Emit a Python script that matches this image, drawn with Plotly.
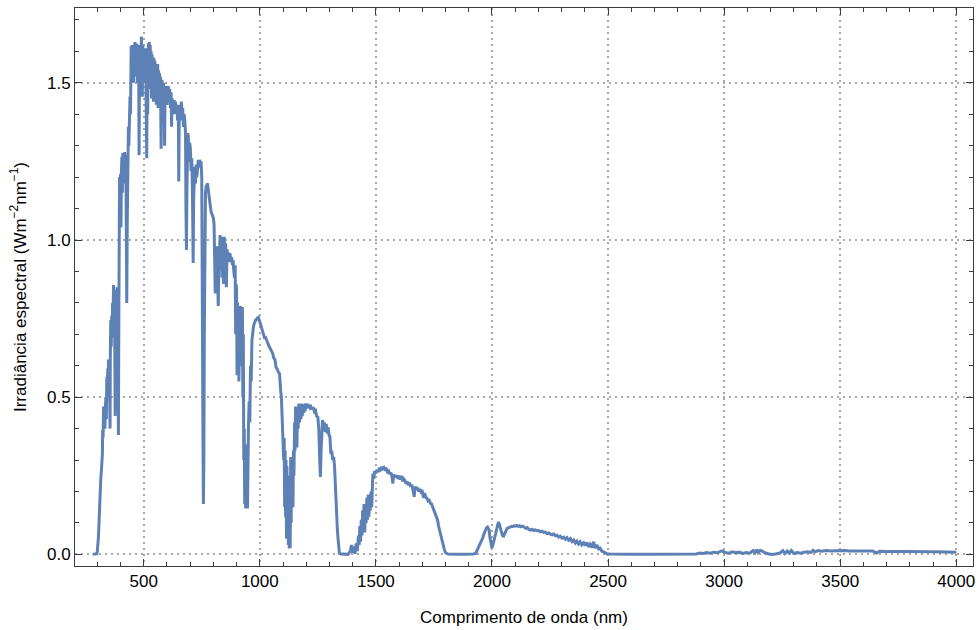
import plotly.graph_objects as go

# Spectral irradiance (W m^-2 nm^-1) against wavelength (nm)
wavelength_nm = [
    280, 285, 290, 295, 298, 300, 303, 305, 308, 310, 312, 315, 318, 320, 322, 323, 325, 327, 329, 331,
    333, 335, 337, 339, 341, 343, 345, 347, 348, 350, 352, 355, 356, 358, 360, 362, 364, 366, 368, 370,
    372, 374, 377, 379, 381, 383, 385, 388, 391, 393, 395, 396, 398, 400, 402, 404, 406, 408, 410, 412,
    414, 416, 418, 420, 423, 427, 429, 431, 434, 436, 438, 441, 443, 446, 448, 450, 452, 454, 456, 458,
    460, 462, 464, 466, 468, 470, 472, 474, 476, 478, 480, 482, 484, 486, 488, 490, 492, 494, 496, 498,
    500, 502, 504, 506, 508, 510, 513, 515, 517, 520, 522, 524, 526, 528, 530, 532, 534, 536, 538, 540,
    542, 544, 546, 548, 550, 552, 554, 556, 558, 560, 562, 564, 566, 568, 570, 572, 575, 577, 579, 582,
    585, 588, 590, 592, 595, 598, 600, 603, 606, 609, 612, 615, 618, 620, 622, 625, 628, 631, 634, 637,
    640, 643, 646, 649, 651, 653, 656, 659, 662, 665, 668, 671, 674, 677, 680, 682, 684, 686, 688, 690,
    692, 695, 698, 701, 704, 707, 710, 712, 713, 715, 717, 720, 723, 726, 729, 732, 735, 738, 741, 744,
    747, 750, 753, 755, 757, 759, 761, 763, 766, 769, 772, 775, 778, 781, 785, 790, 795, 800, 803, 806,
    808, 810, 813, 816, 819, 821, 823, 826, 829, 832, 835, 838, 841, 844, 847, 850, 853, 856, 859, 862,
    865, 868, 871, 875, 879, 882, 885, 888, 891, 894, 896, 898, 900, 902, 904, 906, 908, 910, 913, 915,
    917, 919, 921, 923, 925, 927, 929, 931, 933, 935, 937, 939, 941, 943, 945, 947, 949, 951, 954, 957,
    960, 963, 966, 968, 972, 976, 980, 983, 987, 990, 994, 998, 1002, 1006, 1010, 1015, 1020, 1025, 1030, 1035,
    1040, 1045, 1050, 1055, 1060, 1065, 1070, 1075, 1080, 1085, 1090, 1093, 1096, 1100, 1103, 1105, 1107, 1109, 1111, 1113,
    1115, 1117, 1119, 1121, 1123, 1125, 1127, 1129, 1131, 1133, 1135, 1137, 1139, 1141, 1143, 1145, 1147, 1150, 1152, 1154,
    1156, 1158, 1160, 1162, 1165, 1168, 1171, 1174, 1177, 1180, 1183, 1186, 1189, 1192, 1195, 1198, 1201, 1204, 1208, 1212,
    1216, 1220, 1225, 1230, 1235, 1240, 1245, 1250, 1254, 1258, 1261, 1264, 1267, 1270, 1274, 1278, 1282, 1286, 1290, 1294,
    1298, 1302, 1306, 1310, 1314, 1318, 1322, 1325, 1328, 1331, 1334, 1337, 1340, 1343, 1350, 1360, 1370, 1380, 1390, 1395,
    1400, 1405, 1410, 1415, 1420, 1425, 1428, 1431, 1434, 1437, 1440, 1443, 1446, 1449, 1452, 1455, 1458, 1461, 1464, 1467,
    1470, 1473, 1476, 1479, 1482, 1485, 1487, 1491, 1495, 1500, 1505, 1510, 1515, 1520, 1525, 1530, 1535, 1540, 1545, 1550,
    1555, 1560, 1565, 1570, 1573, 1576, 1580, 1585, 1590, 1595, 1600, 1605, 1610, 1615, 1620, 1625, 1630, 1635, 1640, 1645,
    1650, 1655, 1660, 1665, 1668, 1672, 1676, 1680, 1685, 1690, 1695, 1700, 1705, 1710, 1715, 1720, 1725, 1730, 1735, 1740,
    1745, 1750, 1755, 1760, 1766, 1770, 1775, 1780, 1785, 1790, 1795, 1800, 1810, 1830, 1850, 1880, 1900, 1920, 1930, 1937,
    1945, 1952, 1960, 1966, 1972, 1977, 1981, 1985, 1988, 1991, 1995, 1999, 2002, 2006, 2010, 2016, 2020, 2024, 2028, 2032,
    2037, 2041, 2045, 2050, 2055, 2060, 2065, 2070, 2075, 2080, 2085, 2090, 2095, 2101, 2107, 2113, 2119, 2125, 2131, 2137,
    2145, 2152, 2159, 2166, 2173, 2180, 2187, 2194, 2201, 2208, 2215, 2223, 2230, 2237, 2245, 2252, 2259, 2266, 2273, 2280,
    2287, 2294, 2301, 2309, 2316, 2323, 2330, 2338, 2345, 2352, 2359, 2366, 2373, 2380, 2387, 2395, 2402, 2409, 2416, 2423,
    2430, 2438, 2444, 2452, 2459, 2466, 2473, 2481, 2488, 2495, 2510, 2550, 2600, 2700, 2800, 2880, 2895, 2910, 2925, 2940,
    2955, 2970, 2990, 3005, 3020, 3035, 3050, 3065, 3080, 3095, 3110, 3125, 3133, 3140, 3147, 3155, 3165, 3175, 3190, 3205,
    3220, 3240, 3253, 3262, 3272, 3280, 3290, 3300, 3315, 3330, 3345, 3360, 3375, 3383, 3392, 3405, 3420, 3440, 3460, 3480,
    3500, 3520, 3540, 3560, 3580, 3600, 3620, 3640, 3656, 3670, 3700, 3730, 3760, 3790, 3820, 3850, 3880, 3910, 3940, 3970,
    4000,
]

irradiance = [
    0.000, 0.000, 0.000, 0.000, 0.002, 0.010, 0.030, 0.055, 0.110, 0.160, 0.190, 0.240, 0.270, 0.300, 0.320, 0.395, 0.370, 0.470, 0.420, 0.455,
    0.400, 0.470, 0.500, 0.430, 0.565, 0.500, 0.590, 0.530, 0.620, 0.560, 0.600, 0.400, 0.620, 0.745, 0.660, 0.760, 0.690, 0.800, 0.730, 0.857,
    0.720, 0.840, 0.440, 0.700, 0.820, 0.680, 0.850, 0.700, 0.380, 0.780, 1.000, 1.200, 1.100, 1.210, 1.040, 1.220, 1.265, 1.150, 1.277, 1.200,
    1.270, 1.180, 1.280, 1.240, 1.270, 0.800, 1.050, 1.300, 1.360, 1.300, 1.420, 1.456, 1.400, 1.616, 1.500, 1.620, 1.540, 1.610, 1.500, 1.620,
    1.560, 1.630, 1.520, 1.610, 1.550, 1.625, 1.500, 1.600, 1.540, 1.620, 1.270, 1.580, 1.610, 1.480, 1.630, 1.647, 1.560, 1.456, 1.620, 1.540,
    1.600, 1.500, 1.580, 1.520, 1.610, 1.480, 1.260, 1.560, 1.400, 1.625, 1.500, 1.630, 1.480, 1.620, 1.530, 1.600, 1.450, 1.590, 1.500, 1.575,
    1.440, 1.580, 1.490, 1.570, 1.450, 1.560, 1.430, 1.550, 1.460, 1.560, 1.420, 1.540, 1.470, 1.530, 1.440, 1.520, 1.290, 1.480, 1.510, 1.440,
    1.500, 1.450, 1.300, 1.480, 1.470, 1.490, 1.430, 1.480, 1.490, 1.450, 1.480, 1.420, 1.470, 1.360, 1.450, 1.440, 1.400, 1.445, 1.410, 1.440,
    1.400, 1.430, 1.380, 1.420, 1.186, 1.400, 1.430, 1.380, 1.440, 1.410, 1.420, 1.360, 1.400, 1.380, 1.340, 1.100, 0.968, 1.150, 1.300, 1.340,
    1.330, 1.250, 1.310, 1.290, 1.220, 1.260, 1.150, 1.000, 0.927, 1.130, 1.200, 1.233, 1.180, 1.240, 1.200, 1.250, 1.255, 1.230, 1.255, 1.240,
    1.250, 1.200, 0.900, 0.400, 0.160, 0.300, 0.700, 1.000, 1.150, 1.170, 1.180, 1.180, 1.160, 1.140, 1.106, 1.090, 1.080, 1.070, 1.050, 0.950,
    0.830, 0.960, 0.900, 0.980, 0.880, 0.790, 0.880, 0.980, 1.016, 0.940, 1.010, 0.880, 1.000, 0.860, 1.010, 0.900, 0.990, 0.850, 0.970, 0.950,
    0.960, 0.930, 0.958, 0.940, 0.945, 0.920, 0.936, 0.900, 0.880, 0.920, 0.700, 0.860, 0.840, 0.570, 0.800, 0.650, 0.760, 0.550, 0.720, 0.650,
    0.790, 0.600, 0.780, 0.700, 0.787, 0.500, 0.700, 0.300, 0.400, 0.160, 0.350, 0.146, 0.250, 0.150, 0.300, 0.146, 0.350, 0.400, 0.486, 0.420,
    0.600, 0.550, 0.680, 0.705, 0.720, 0.735, 0.740, 0.749, 0.745, 0.752, 0.754, 0.745, 0.735, 0.725, 0.716, 0.705, 0.690, 0.690, 0.675, 0.670,
    0.662, 0.655, 0.648, 0.640, 0.625, 0.620, 0.595, 0.590, 0.580, 0.575, 0.520, 0.500, 0.440, 0.385, 0.300, 0.370, 0.150, 0.330, 0.120, 0.300,
    0.050, 0.280, 0.080, 0.250, 0.030, 0.200, 0.019, 0.180, 0.020, 0.310, 0.100, 0.280, 0.200, 0.300, 0.150, 0.330, 0.250, 0.420, 0.330, 0.470,
    0.360, 0.460, 0.340, 0.470, 0.400, 0.480, 0.420, 0.475, 0.430, 0.480, 0.440, 0.475, 0.450, 0.478, 0.455, 0.480, 0.465, 0.478, 0.470, 0.472,
    0.466, 0.470, 0.462, 0.468, 0.455, 0.458, 0.440, 0.437, 0.400, 0.300, 0.246, 0.330, 0.400, 0.427, 0.410, 0.420, 0.390, 0.415, 0.385, 0.405,
    0.380, 0.375, 0.320, 0.330, 0.300, 0.310, 0.280, 0.220, 0.150, 0.120, 0.080, 0.050, 0.020, 0.003, 0.001, 0.000, 0.001, 0.000, 0.010, 0.030,
    0.005, 0.025, 0.002, 0.035, 0.010, 0.060, 0.030, 0.090, 0.040, 0.110, 0.060, 0.140, 0.080, 0.160, 0.070, 0.150, 0.100, 0.180, 0.110, 0.190,
    0.120, 0.185, 0.140, 0.200, 0.150, 0.230, 0.257, 0.240, 0.265, 0.258, 0.268, 0.262, 0.275, 0.270, 0.278, 0.272, 0.276, 0.270, 0.272, 0.262,
    0.265, 0.255, 0.260, 0.245, 0.225, 0.248, 0.253, 0.245, 0.252, 0.240, 0.250, 0.238, 0.250, 0.232, 0.240, 0.235, 0.225, 0.232, 0.220, 0.228,
    0.215, 0.222, 0.205, 0.183, 0.210, 0.215, 0.205, 0.212, 0.200, 0.208, 0.198, 0.200, 0.180, 0.195, 0.182, 0.178, 0.170, 0.172, 0.162, 0.160,
    0.150, 0.140, 0.130, 0.118, 0.109, 0.090, 0.076, 0.066, 0.045, 0.030, 0.015, 0.005, 0.001, 0.000, 0.000, 0.000, 0.000, 0.001, 0.003, 0.014,
    0.024, 0.034, 0.052, 0.066, 0.078, 0.085, 0.087, 0.083, 0.077, 0.055, 0.030, 0.024, 0.025, 0.035, 0.050, 0.066, 0.080, 0.095, 0.103, 0.095,
    0.082, 0.068, 0.060, 0.058, 0.068, 0.076, 0.082, 0.084, 0.086, 0.087, 0.089, 0.088, 0.091, 0.090, 0.092, 0.089, 0.091, 0.088, 0.090, 0.088,
    0.083, 0.085, 0.079, 0.077, 0.080, 0.076, 0.078, 0.075, 0.076, 0.072, 0.074, 0.070, 0.071, 0.066, 0.068, 0.064, 0.062, 0.065, 0.059, 0.061,
    0.055, 0.058, 0.052, 0.055, 0.048, 0.053, 0.045, 0.050, 0.041, 0.046, 0.036, 0.042, 0.033, 0.040, 0.030, 0.037, 0.028, 0.038, 0.024, 0.032,
    0.022, 0.040, 0.020, 0.030, 0.018, 0.020, 0.010, 0.008, 0.004, 0.002, 0.001, 0.000, 0.000, 0.000, 0.000, 0.001, 0.004, 0.003, 0.006, 0.004,
    0.007, 0.005, 0.011, 0.006, 0.004, 0.008, 0.005, 0.007, 0.003, 0.006, 0.004, 0.012, 0.005, 0.015, 0.006, 0.013, 0.010, 0.005, 0.002, 0.000,
    0.001, 0.004, 0.012, 0.003, 0.011, 0.004, 0.012, 0.003, 0.006, 0.004, 0.007, 0.008, 0.006, 0.013, 0.008, 0.012, 0.010, 0.012, 0.011, 0.012,
    0.013, 0.012, 0.011, 0.012, 0.011, 0.011, 0.010, 0.011, 0.004, 0.010, 0.009, 0.010, 0.009, 0.009, 0.008, 0.009, 0.008, 0.008, 0.007, 0.008,
    0.007,
]

x_ticks = [500, 1000, 1500, 2000, 2500, 3000, 3500, 4000]
y_ticks = [0.0, 0.5, 1.0, 1.5]

LINE_COLOR = "#5E81B5"
FRAME_COLOR = "#3c3c3c"
GRID_COLOR = "#a8a8a8"
FONT = "Liberation Sans, Arial, sans-serif"

fig = go.Figure(
    go.Scatter(
        x=wavelength_nm,
        y=irradiance,
        mode="lines",
        line=dict(color=LINE_COLOR, width=3),
        hoverinfo="skip",
    )
)

axis_common = dict(
    showline=True,
    linecolor=FRAME_COLOR,
    linewidth=1,
    mirror="ticks",
    ticks="inside",
    ticklen=7,
    tickwidth=1,
    tickcolor=FRAME_COLOR,
    showgrid=True,
    gridcolor=GRID_COLOR,
    griddash="2px,4px",
    gridwidth=1.5,
    zeroline=False,
    tickfont=dict(family=FONT, size=17, color="#000000"),
)

fig.update_xaxes(
    **axis_common,
    range=[204, 4072],
    tickvals=x_ticks,
    ticktext=[str(v) for v in x_ticks],
    minor=dict(dtick=100, tick0=0, ticks="inside", ticklen=4, tickcolor=FRAME_COLOR, showgrid=False),
    title=dict(text="Comprimento de onda (nm)", font=dict(family=FONT, size=17, color="#000000"), standoff=20),
)
fig.update_yaxes(
    **axis_common,
    range=[-0.037, 1.738],
    tickvals=y_ticks,
    ticktext=[f"{v:.1f}" for v in y_ticks],
    minor=dict(dtick=0.1, tick0=0, ticks="inside", ticklen=4, tickcolor=FRAME_COLOR, showgrid=False),
    title=dict(
        text="Irradiância espectral (Wm<sup>−2</sup>nm<sup>−1</sup>)",
        font=dict(family=FONT, size=17, color="#000000"),
        standoff=16,
    ),
)

fig.update_layout(
    width=980,
    height=630,
    margin=dict(l=75, r=5, t=8, b=64),
    paper_bgcolor="white",
    plot_bgcolor="white",
    showlegend=False,
)

fig.write_html("out.html")
